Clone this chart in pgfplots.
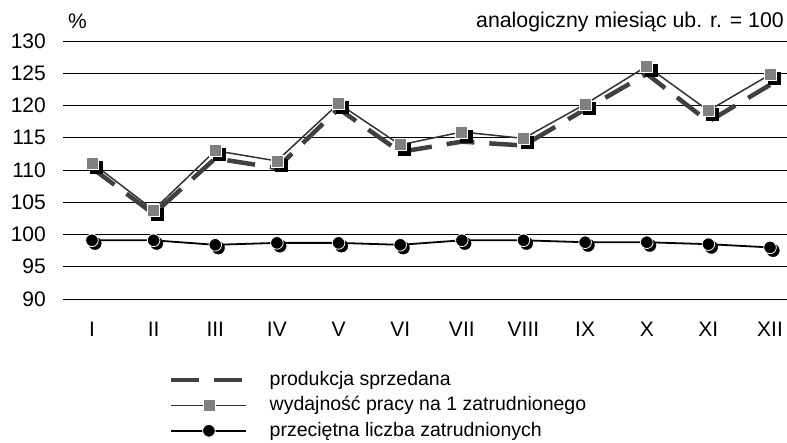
\documentclass[border=0pt]{standalone}
\usepackage{pgfplots}
\pgfplotsset{compat=1.18}
\usepackage{fontspec}
\setmainfont{Liberation Sans}
\definecolor{prodc}{HTML}{404040}
\definecolor{wydc}{HTML}{333333}
\definecolor{sqc}{HTML}{808080}
\pgfplotsset{
  legA/.style={legend image code/.code={\draw[##1] (0bp,0bp) -- (74bp,0bp);}},
  legB/.style={legend image code/.code={\draw[mark repeat=2,mark phase=2,##1] plot coordinates {(0bp,0bp) (37.5bp,0bp) (75bp,0bp)};}},
}
\newcommand\bigf{\fontsize{21bp}{25bp}\selectfont}
\newcommand\legf{\fontsize{19.5bp}{23bp}\selectfont}
\begin{document}
\bigf
\begin{tikzpicture}
\useasboundingbox (-63bp,-144bp) rectangle (724bp,299bp);
\begin{axis}[
  at={(0,0)}, anchor=south west,
  scale only axis, width=724bp, height=258bp,
  xmin=-0.47, xmax=11.275, ymin=90, ymax=130,
  ytick={90,95,...,130},
  xtick={0,...,11},
  xticklabels={I,II,III,IV,V,VI,VII,VIII,IX,X,XI,XII},
  /pgf/number format/assume math mode=true,
  axis line style={draw=none},
  major tick length=0pt,
  ymajorgrids, major grid style={black, line width=1bp},
  tick label style={font=\bigf},
  yticklabel style={anchor=east, inner sep=0pt, xshift=-17bp},
  xticklabel style={anchor=north, inner sep=0pt, yshift=-23bp},
  clip=false,
  legend style={at={(rel axis cs:0.1464,-0.279)}, anchor=north west, draw=none, fill=none,
    inner sep=0pt, column sep=22bp, row sep=8.1bp, font=\legf,
    nodes={inner sep=0pt, anchor=west}},
  legend cell align=left,
]
% production
\addplot[color=prodc, line width=4.5bp, dash pattern=on 28bp off 15bp, legA]
  coordinates {(0,110.3) (1,103.2) (2,111.8) (3,110.3) (4,119.5) (5,112.8)
               (6,114.4) (7,113.8) (8,119.4) (9,124.9) (10,117.5) (11,123.2)};
\addlegendentry{produkcja sprzedana}
% shadow of squares
\addplot[forget plot, only marks, mark=square*, mark size=6bp,
  mark options={fill=black, draw=black, xshift=4bp, yshift=-4bp}]
  coordinates {(0,111.1) (1,103.8) (2,113.0) (3,111.4) (4,120.3) (5,113.9)
               (6,115.9) (7,114.9) (8,120.2) (9,126.1) (10,119.2) (11,124.8)};
% wydajnosc
\addplot[color=wydc, line width=1.5bp, mark=square*, mark size=6bp,
  mark options={fill=sqc, draw=white, line width=0.8bp}, legB]
  coordinates {(0,111.1) (1,103.8) (2,113.0) (3,111.4) (4,120.3) (5,113.9)
               (6,115.9) (7,114.9) (8,120.2) (9,126.1) (10,119.2) (11,124.8)};
\addlegendentry{wydajność pracy na 1 zatrudnionego}
% shadow of circles
\addplot[forget plot, only marks, mark=*, mark size=6.3bp,
  mark options={fill=black, draw=black, xshift=3bp, yshift=-3bp}]
  coordinates {(0,99.1) (1,99.1) (2,98.4) (3,98.7) (4,98.7) (5,98.4)
               (6,99.1) (7,99.1) (8,98.8) (9,98.8) (10,98.5) (11,98.0)};
% employment
\addplot[color=black, line width=1.8bp, mark=*, mark size=6.3bp,
  mark options={fill=black, draw=white, line width=0.8bp}, legB]
  coordinates {(0,99.1) (1,99.1) (2,98.4) (3,98.7) (4,98.7) (5,98.4)
               (6,99.1) (7,99.1) (8,98.8) (9,98.8) (10,98.5) (11,98.0)};
\addlegendentry{przeciętna liczba zatrudnionych}
\node[anchor=base west, inner sep=0pt, font=\bigf] at ([xshift=5bp, yshift=12bp]rel axis cs:0,1) {\%};
\node[anchor=base east, inner sep=0pt, font=\fontsize{21.3bp}{25bp}\selectfont] at ([xshift=-3bp, yshift=13bp]rel axis cs:1,1) {analogiczny miesiąc ub. r. = 100};
\end{axis}
\end{tikzpicture}
\end{document}
